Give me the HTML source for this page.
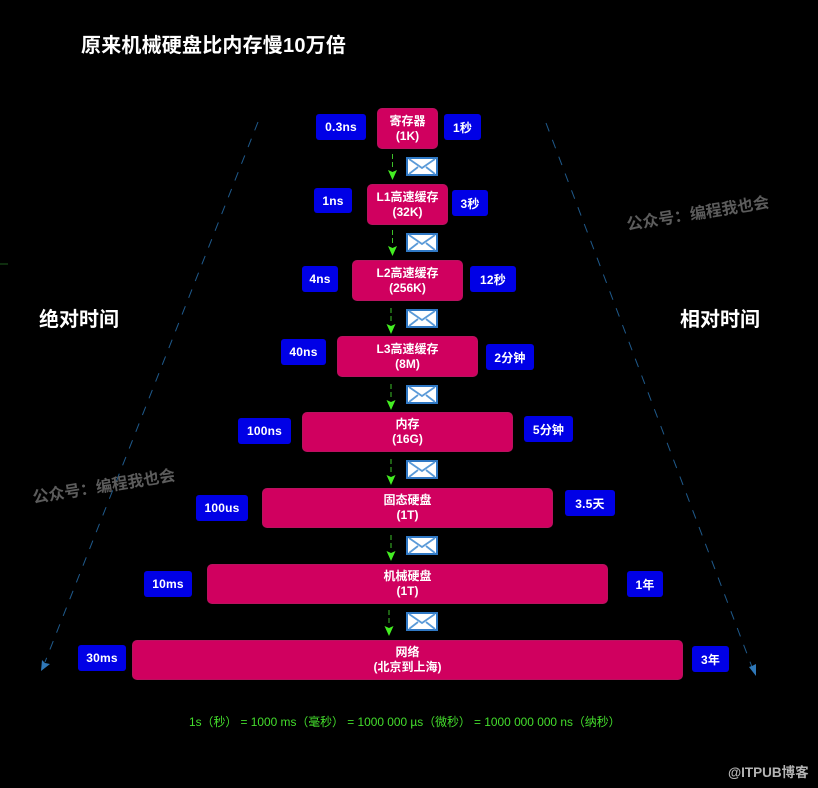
<!DOCTYPE html>
<html><head><meta charset="utf-8">
<style>
html,body{margin:0;padding:0;background:#000;}
#c{position:relative;width:818px;height:788px;overflow:hidden;background:#000;font-family:"Liberation Sans","Noto Sans CJK SC",sans-serif;color:#fff;}
.p,.b{position:absolute;display:flex;align-items:center;justify-content:center;text-align:center;font-weight:bold;box-sizing:border-box;}
.p{background:#d0005f;border-radius:5px;font-size:12px;line-height:15px;border:1px solid #b8125f;}
.b{background:#0000e6;border-radius:3px;font-size:12px;letter-spacing:.2px;}
.t{position:absolute;white-space:nowrap;font-weight:bold;}
svg{position:absolute;left:0;top:0;}
</style></head><body><div id="c">
<svg width="818" height="788" viewBox="0 0 818 788">
<defs><g id="env"><rect width="32" height="19" fill="#2f78c4"/><rect x="2" y="2" width="28" height="15" fill="#fff"/><path d="M3 2L16 11L29 2M3 17L12 10M29 17L20 10" fill="none" stroke="#5a9ad8" stroke-width="1.800"/></g>
<g id="arr"><path d="M0 0V5M0 8V13" stroke="#3cc028" stroke-width="1" fill="none"/><path d="M-4.500 16L0 18L4.500 16L0 26Z" fill="#44ee22"/></g></defs>
<line x1="258" y1="122" x2="45" y2="662" stroke="#1f5a8c" stroke-width="1" stroke-dasharray="9 9"/>
<path d="M41 671L42 660L45 663L50 664Z" fill="#2f78b8"/>
<line x1="546" y1="123" x2="752" y2="667" stroke="#1f5a8c" stroke-width="1" stroke-dasharray="9 9"/>
<path d="M756 676L749 667L752 666L756 664Z" fill="#2f78b8"/>
<line x1="0" y1="264" x2="8" y2="264" stroke="#1c5a1c" stroke-width="1"/>
<use href="#env" x="406" y="157"/><use href="#env" x="406" y="233"/><use href="#env" x="406" y="309"/><use href="#env" x="406" y="385"/><use href="#env" x="406" y="460"/><use href="#env" x="406" y="536"/><use href="#env" x="406" y="612"/>
<use href="#arr" x="392.500" y="154"/><use href="#arr" x="392.500" y="230"/><use href="#arr" x="391" y="308"/><use href="#arr" x="391" y="384"/><use href="#arr" x="391" y="459"/><use href="#arr" x="391" y="535"/><use href="#arr" x="389" y="610"/>
</svg>
<div class="t" style="left:81px;top:34px;font-size:20px;line-height:24px;letter-spacing:.2px;">原来机械硬盘比内存慢10万倍</div>
<div class="t" style="left:39px;top:307px;font-size:20px;line-height:26px;">绝对时间</div>
<div class="t" style="left:680px;top:307px;font-size:20px;line-height:26px;">相对时间</div>
<div class="t" style="left:627px;top:216px;font-size:16px;line-height:20px;color:#5c5c5c;transform:rotate(-9deg);transform-origin:0 50%;">公众号：编程我也会</div>
<div class="t" style="left:33px;top:489px;font-size:16px;line-height:20px;color:#5c5c5c;transform:rotate(-9deg);transform-origin:0 50%;">公众号：编程我也会</div>
<div class="p" style="left:377px;top:108px;width:61px;height:41px;">寄存器<br>(1K)</div>
<div class="p" style="left:367px;top:184px;width:81px;height:41px;">L1高速缓存<br>(32K)</div>
<div class="p" style="left:352px;top:260px;width:111px;height:41px;">L2高速缓存<br>(256K)</div>
<div class="p" style="left:337px;top:336px;width:141px;height:41px;">L3高速缓存<br>(8M)</div>
<div class="p" style="left:302px;top:412px;width:211px;height:40px;">内存<br>(16G)</div>
<div class="p" style="left:262px;top:488px;width:291px;height:40px;">固态硬盘<br>(1T)</div>
<div class="p" style="left:207px;top:564px;width:401px;height:40px;">机械硬盘<br>(1T)</div>
<div class="p" style="left:132px;top:640px;width:551px;height:40px;">网络<br>(北京到上海)</div>
<div class="b" style="left:316px;top:114px;width:50px;height:26px;">0.3ns</div>
<div class="b" style="left:314px;top:188px;width:38px;height:25px;">1ns</div>
<div class="b" style="left:302px;top:266px;width:36px;height:26px;">4ns</div>
<div class="b" style="left:281px;top:339px;width:45px;height:26px;">40ns</div>
<div class="b" style="left:238px;top:418px;width:53px;height:26px;">100ns</div>
<div class="b" style="left:196px;top:495px;width:52px;height:26px;">100us</div>
<div class="b" style="left:144px;top:571px;width:48px;height:26px;">10ms</div>
<div class="b" style="left:78px;top:645px;width:48px;height:26px;">30ms</div>
<div class="b" style="left:444px;top:114px;width:37px;height:26px;">1秒</div>
<div class="b" style="left:452px;top:190px;width:36px;height:26px;">3秒</div>
<div class="b" style="left:470px;top:266px;width:46px;height:26px;">12秒</div>
<div class="b" style="left:486px;top:344px;width:48px;height:26px;">2分钟</div>
<div class="b" style="left:524px;top:416px;width:49px;height:26px;">5分钟</div>
<div class="b" style="left:565px;top:490px;width:50px;height:26px;">3.5天</div>
<div class="b" style="left:627px;top:571px;width:36px;height:26px;">1年</div>
<div class="b" style="left:692px;top:646px;width:37px;height:26px;">3年</div>
<div class="t" style="left:189px;top:715px;font-size:11.900px;line-height:15px;font-weight:normal;color:#44dd2c;">1s（秒） = 1000 ms（毫秒） = 1000 000 µs（微秒） = 1000 000 000 ns（纳秒）</div>
<div class="t" style="left:728px;top:764px;font-size:13.500px;line-height:17px;color:#b4b4b4;">@ITPUB博客</div>
</div></body></html>
